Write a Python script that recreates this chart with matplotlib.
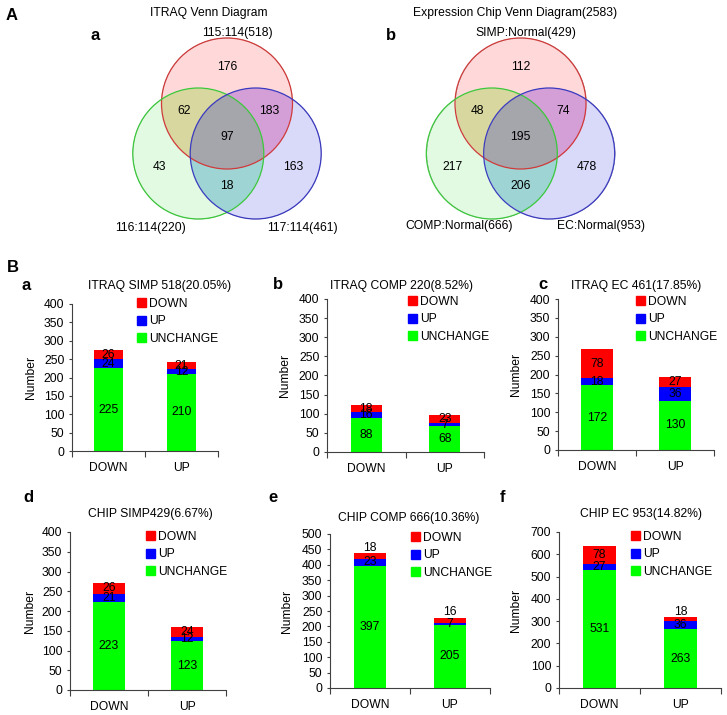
import matplotlib
matplotlib.use("Agg")
import numpy as np
import matplotlib.pyplot as plt
from matplotlib.patches import Circle, Patch

plt.rcParams["font.family"] = ["Liberation Sans", "DejaVu Sans"]
FS = 8.75
plt.rcParams["font.size"] = FS

W, H = 727, 715

# ---- Venn data ----
venn_titles = ["ITRAQ Venn Diagram", "Expression Chip Venn Diagram(2583)"]
venn_set_names = [["115:114(518)", "116:114(220)", "117:114(461)"],
                  ["SIMP:Normal(429)", "COMP:Normal(666)", "EC:Normal(953)"]]
# regions: top, top&left, top&right, all three, left, right, left&right
itraq_regions = [176, 62, 183, 97, 43, 163, 18]
chip_regions = [112, 48, 74, 195, 217, 478, 206]

# ---- bar data ----
categories = ["DOWN", "UP"]
series_names = ["DOWN", "UP", "UNCHANGE"]
panel_titles = ["ITRAQ SIMP 518(20.05%)", "ITRAQ COMP 220(8.52%)", "ITRAQ EC 461(17.85%)",
                "CHIP SIMP429(6.67%)", "CHIP COMP 666(10.36%)", "CHIP EC 953(14.82%)"]
panel_letters = ["a", "b", "c", "d", "e", "f"]
unchange_vals = [[225, 210], [88, 68], [172, 130], [223, 123], [397, 205], [531, 263]]
up_vals = [[24, 12], [16, 7], [18, 36], [21, 12], [23, 7], [27, 36]]
down_vals = [[26, 21], [18, 23], [78, 27], [26, 24], [18, 16], [78, 18]]
y_max = [400, 400, 400, 400, 500, 700]
y_step = [50, 50, 50, 50, 50, 100]


def fx(px):
    return px / W


def fy(py):
    return 1 - py / H


fig = plt.figure(figsize=(W / 100, H / 100), dpi=100)

# ---- Venn diagrams drawn on a full-figure pixel canvas ----
canvas = fig.add_axes([0, 0, 1, 1])
canvas.set_xlim(0, W)
canvas.set_ylim(H, 0)
canvas.axis("off")

r = 65.5
edges = ["#d03a3a", "#3cc83c", "#3a3ac0"]
# colour of each overlap region keyed by (in red, in green, in blue)
region_colors = {
    (1, 0, 0): (255, 218, 218), (0, 1, 0): (225, 250, 225), (0, 0, 1): (218, 218, 250),
    (1, 1, 0): (215, 215, 160), (1, 0, 1): (212, 160, 215), (0, 1, 1): (160, 212, 212),
    (1, 1, 1): (165, 165, 172),
}
region_offsets = [(0, -36.5), (-43, 7.5), (42.5, 7.5), (0, 33.5), (-68, 63.5), (66, 63.5), (0, 82.5)]
venn_centers = [227, 520.5]
set_label_pos = [[(237, 33), (150, 228), (302, 228)],
                 [(526, 33), (459, 226), (601, 226)]]
title_pos = [(209, 13), (515, 13)]

for i, cx in enumerate(venn_centers):
    cy = 103.5
    circles = [(cx, cy), (cx - 28.7, cy + 50), (cx + 28.7, cy + 50)]
    x0, x1, y0, y1 = cx - 100, cx + 100, 35, 222
    ss = 3
    gx = np.arange(x0, x1, 1 / ss) + 0.5 / ss
    gy = np.arange(y0, y1, 1 / ss) + 0.5 / ss
    XX, YY = np.meshgrid(gx, gy)
    inside = [((XX - ccx) ** 2 + (YY - ccy) ** 2 <= r ** 2).astype(int) for ccx, ccy in circles]
    img = np.zeros(XX.shape + (4,))
    for key, col in region_colors.items():
        m = (inside[0] == key[0]) & (inside[1] == key[1]) & (inside[2] == key[2])
        img[m, :3] = np.array(col) / 255
        img[m, 3] = 1
    canvas.imshow(img, extent=(x0, x1, y1, y0), origin="upper", aspect="auto", zorder=1,
                  interpolation="antialiased")
    for (ccx, ccy), ec in zip(circles, edges):
        canvas.add_patch(Circle((ccx, ccy), r, facecolor="none", edgecolor=ec, lw=0.9, zorder=2))
    counts = itraq_regions if i == 0 else chip_regions
    for n, (dx, dy) in zip(counts, region_offsets):
        canvas.text(cx + dx, cy + dy, str(n), ha="center", va="center", fontsize=FS, zorder=3)
    for name, (tx, ty) in zip(venn_set_names[i], set_label_pos[i]):
        canvas.text(tx, ty, name, ha="center", va="center", fontsize=FS)
    canvas.text(title_pos[i][0], title_pos[i][1], venn_titles[i], ha="center", va="center", fontsize=FS)

canvas.set_xlim(0, W)
canvas.set_ylim(H, 0)

canvas.text(12, 15, "A", fontsize=12, fontweight="bold", ha="center", va="center")
canvas.text(13, 268, "B", fontsize=12, fontweight="bold", ha="center", va="center")
canvas.text(95, 35, "a", fontsize=12, fontweight="bold", ha="center", va="center")
canvas.text(391, 35, "b", fontsize=12, fontweight="bold", ha="center", va="center")

# ---- stacked bar panels ----
# (left, top, right, bottom) in pixels
axes_px = [(72, 304, 218, 451), (327, 299, 484, 452), (558, 299, 714, 450),
           (70, 532, 226, 690), (330, 534, 490, 688), (559, 532, 721, 688)]
letter_px = [(26, 286), (278, 285), (543, 285), (28, 497), (273, 498), (503, 497)]
title_px = [(160, 286), (401, 286), (636, 286), (150, 514), (409, 518), (641, 514)]
legend_px = [(137, 298), (408, 296), (636, 296), (146, 531), (411, 532), (631, 531)]
ylabel_px = [31, 285, 516, 30, 287, 516]
xlabel_gap = 8

colors = {"UNCHANGE": "#00ff00", "UP": "#0000ff", "DOWN": "#ff0000"}

for k in range(6):
    l, t, rr, b = axes_px[k]
    ax = fig.add_axes([fx(l), fy(b), (rr - l) / W, (b - t) / H])
    x = list(range(len(categories)))
    u = unchange_vals[k]
    p = up_vals[k]
    d = down_vals[k]
    b1 = [u[i] + p[i] for i in x]
    ax.bar(x, u, width=0.4, color=colors["UNCHANGE"])
    ax.bar(x, p, width=0.4, bottom=u, color=colors["UP"])
    ax.bar(x, d, width=0.4, bottom=b1, color=colors["DOWN"])
    for i in x:
        ax.text(i, u[i] / 2, str(u[i]), ha="center", va="center", fontsize=FS)
        ax.text(i, u[i] + p[i] / 2, str(p[i]), ha="center", va="center", fontsize=FS)
        if d[i] / y_max[k] < 0.04:
            ax.annotate(str(d[i]), (i, b1[i] + d[i]), xytext=(0, 4), textcoords="offset points",
                        ha="center", va="center", fontsize=FS)
        else:
            ax.text(i, b1[i] + d[i] / 2, str(d[i]), ha="center", va="center", fontsize=FS)

    ax.set_xlim(-0.5, 1.5)
    ax.set_ylim(0, y_max[k])
    ax.set_yticks(range(0, y_max[k] + 1, y_step[k]))
    ax.set_xticks(x)
    ax.set_xticklabels(categories)
    ax.set_xticks([-0.5, 0.5, 1.5], minor=True)
    ax.tick_params(axis="x", which="major", length=0, pad=xlabel_gap, labelsize=FS)
    ax.tick_params(axis="x", which="minor", length=4, width=0.8, direction="out", color="#404040")
    ax.tick_params(axis="y", length=2.5, width=0.8, pad=3, labelsize=FS, color="#404040")
    for s in ["top", "right"]:
        ax.spines[s].set_visible(False)
    for s in ["left", "bottom"]:
        ax.spines[s].set_color("#404040")
        ax.spines[s].set_linewidth(0.8)
    ax.set_ylabel("Number", fontsize=FS)
    ax.yaxis.set_label_coords((ylabel_px[k] - l) / (rr - l), 0.5)
    ax.yaxis.label.set_va("center")

    handles = [Patch(color=colors[n]) for n in series_names]
    ax.legend(handles, series_names, loc="upper left",
              bbox_to_anchor=(fx(legend_px[k][0]), fy(legend_px[k][1])),
              bbox_transform=fig.transFigure, frameon=False, borderpad=0, borderaxespad=0,
              handlelength=0.75, handleheight=0.75, handletextpad=0.25, labelspacing=0.45,
              fontsize=FS)

    fig.text(fx(title_px[k][0]), fy(title_px[k][1]), panel_titles[k], ha="center", va="center", fontsize=FS)
    fig.text(fx(letter_px[k][0]), fy(letter_px[k][1]), panel_letters[k], ha="center", va="center",
             fontsize=12, fontweight="bold")

fig.savefig("out.png", dpi=100)
